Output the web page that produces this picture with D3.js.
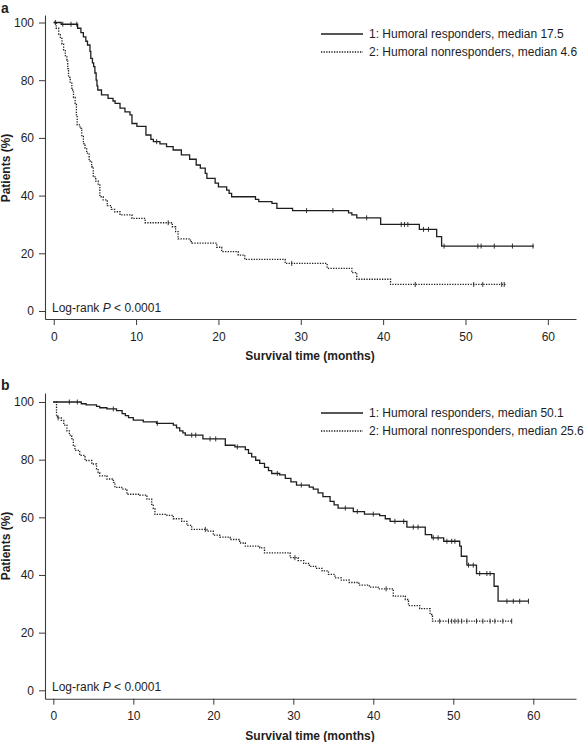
<!DOCTYPE html>
<html><head><meta charset="utf-8">
<script src="https://cdn.jsdelivr.net/npm/d3@7"></script>
<style>
body{margin:0;background:#fff}
svg{display:block}
text{font-family:"Liberation Sans",Arial,Helvetica,sans-serif;fill:#1e1e1e}
</style>
</head><body>
<svg id="chart" width="586" height="742"></svg>
<script>
// ---------- data ----------
const xTicks = [0, 10, 20, 30, 40, 50, 60];
const yTicks = [0, 20, 40, 60, 80, 100];
const xTitle = "Survival time (months)";
const yTitle = "Patients (%)";
const pText = ["Log-rank ", "P", " < 0.0001"];

// Panel a
const aLegend = ["1: Humoral responders, median 17.5", "2: Humoral nonresponders, median 4.6"];
const aRespTime = [0,0.9,2.9,3.3,3.6,3.9,4.1,4.4,4.5,4.7,4.85,5.0,5.15,5.25,5.35,5.8,6.6,7.2,7.45,8.05,8.65,9.26,9.5,10.1,11.2,11.8,12.1,12.9,13.7,14.5,15.5,16.5,17.3,17.8,18.4,18.6,19.6,20.0,21.0,21.3,21.6,24.5,24.9,26.5,27.1,29.0,35.8,36.2,36.8,39.7,44.4,46.5,47.1,58.3];
const aRespSurv = [100,99.4,98,96.5,95,93.5,92.2,90,87.6,86,84.7,82.5,80,78,76.6,74.9,73.7,72.8,72,70.3,69,68,65,64,61,59.5,58.7,57.9,57,55.8,54.1,52.6,50.6,49.5,47.7,46,44.3,43,41.9,40.8,39.6,38.7,37.9,37.3,35.6,34.8,34,33.3,32.3,30,28.3,25.8,22.5,22.5];
const aRespCens = [1.1,2.1,2.8,12.5,30.7,33.9,38.0,42.2,42.6,43.0,44.9,45.5,47.4,51.5,51.9,53.5,55.7,58.2];
const aNonTime = [0,0.3,0.6,0.8,1.0,1.2,1.4,1.6,1.7,1.8,2.0,2.2,2.4,2.6,2.75,2.85,3.2,3.4,3.6,3.8,4.0,4.3,4.6,4.8,5.1,5.4,5.6,6.0,6.5,7.0,7.4,8.05,9.5,11.1,14.4,14.8,15.1,16.6,16.8,19.8,20.4,22.4,23.2,28.1,33.2,36.2,36.8,40.9,54.9];
const aNonSurv = [100,98,96,94.5,92.5,90.5,88.5,87,84,81,79,76.6,74,72,68,64.5,63.3,60.5,58,56.5,54.7,52,50,46.5,45,43.7,39.6,38.5,36.5,35.2,34.4,33.3,32.1,30.6,29.2,27.5,25,24,23.5,22.1,20.6,19.4,17.9,16.5,14.8,13.3,11,9.2,9.2];
const aNonCens = [0.2,13.9,28.9,43.9,51.0,52.1,54.4,54.7];

// Panel b
const bLegend = ["1: Humoral responders, median 50.1", "2: Humoral nonresponders, median 25.6"];
const bRespTime = [0,3.5,4.1,5.4,5.8,6.7,7.9,8.6,9.0,9.4,10,11.25,12.9,15,15.4,15.8,16.2,16.5,18.7,21.5,22.7,24,24.4,24.8,25.3,25.8,26.4,26.9,27.3,28.3,29.0,29.7,30.4,32.0,32.5,33.1,33.7,34.6,35.1,35.6,37.5,38.9,40.8,41.5,42.1,44.2,46.5,47.3,48.8,50.8,51.0,51.7,52.9,55.1,55.6,59.4];
const bRespSurv = [100,99.4,99,98.5,98,97.6,97,96,95.3,94.6,93.7,93.1,92.6,92,91,90,89.3,88.5,87.2,85,84.4,83.5,82.2,81,79.8,78.7,77.3,76.2,75.2,74.7,73.5,72.3,71.2,70.5,69.8,68.5,67.2,65.5,64.3,63.2,62,61.1,60.6,59.5,58.6,56.6,54,52.9,51.7,50,46.5,43.4,40.5,36.1,30.9,30.9];
const bRespCens = [2.0,3.0,7.5,13.0,17.3,17.8,19.6,20.3,23.0,28.0,31.0,36.5,38.0,40.0,42.7,43.8,45.0,45.6,47.5,48.1,49.2,49.8,50.2,51.9,52.5,53.3,54.2,54.6,56.7,57.5,58.3,59.4];
const bNonTime = [0,0.4,0.5,1.0,1.3,1.7,2.0,2.3,2.5,2.7,3.3,3.96,4.8,5.4,5.6,5.8,6.7,7.5,7.7,8.55,9.2,10.8,11.7,12.3,12.5,12.7,14.2,15,16.05,16.7,17.3,19.2,20,20.8,22.1,23.3,24,25.8,26.4,29.6,30.6,31.3,32,32.8,33.6,34.4,35.2,36,37,38.2,39.5,40.6,42.5,44,44.4,45.8,47.1,47.4,57.4];
const bNonSurv = [100,95,94.5,93.6,92,90,88.5,87.3,85,83.2,81.5,79.7,78.5,76.8,75.5,74.4,73.3,72.1,70.4,69.8,68,67.7,66.3,64.5,63,61,60.7,59.5,58.6,57.2,55.8,55.2,53.8,53.1,52.3,51.1,50,49.4,47.7,46,45,44,43,42.3,41.4,40.2,39,38.2,37.4,36.5,35.8,35.2,32.7,31.5,29.4,28.3,26.3,24,24];
const bNonCens = [0.6,19.0,30.2,41.6,48.3,49.4,49.8,50.2,50.6,51.05,51.7,52.9,53.7,54.6,55.2,56.2,57.3];

// ---------- drawing ----------
const svg = d3.select("#chart");
const INK = "#1e1e1e";
const AXIS = "#3a3a3a";

function stepValue(times, surv, t) {
  let v = surv[0];
  for (let i = 0; i < times.length; i++) { if (times[i] <= t) v = surv[i]; }
  return v;
}

function drawPanel(p) {
  const g = svg.append("g");
  const x = d3.scaleLinear().domain(p.xDom).range([45, 576]);
  const y = d3.scaleLinear().domain(p.yDom).range([p.bottom, p.top]);

  const ax = g.append("g").attr("transform", `translate(0,${p.bottom})`)
    .call(d3.axisBottom(x).tickValues(xTicks).tickSize(6).tickSizeOuter(0).tickPadding(7));
  const ay = g.append("g").attr("transform", "translate(45,0)")
    .call(d3.axisLeft(y).tickValues(yTicks).tickSize(6).tickSizeOuter(0).tickPadding(5));
  [ax, ay].forEach(a => {
    a.selectAll("path.domain").attr("stroke", AXIS).attr("stroke-width", 1.1);
    a.selectAll(".tick line").attr("stroke", AXIS).attr("stroke-width", 1);
    a.selectAll(".tick text").attr("font-size", 12).attr("fill", INK)
      .attr("font-family", '"Liberation Sans",Arial,sans-serif');
  });

  const line = d3.line().x(d => x(d[0])).y(d => y(d[1])).curve(d3.curveStepAfter);
  const series = [
    {t: p.respT, s: p.respS, c: p.respC, dash: null, w: 1.3},
    {t: p.nonT, s: p.nonS, c: p.nonC, dash: "1.3,1.3", w: 1.3}
  ];
  series.forEach(se => {
    g.append("path").datum(se.t.map((t, i) => [t, se.s[i]]))
      .attr("d", line).attr("fill", "none").attr("stroke", INK)
      .attr("stroke-width", se.w).attr("stroke-dasharray", se.dash);
    g.selectAll(null).data(se.c).enter().append("line")
      .attr("x1", d => x(d)).attr("x2", d => x(d))
      .attr("y1", d => y(stepValue(se.t, se.s, d)) - 2.5)
      .attr("y2", d => y(stepValue(se.t, se.s, d)) + 2.5)
      .attr("stroke", INK).attr("stroke-width", 0.9);
  });

  // legend
  p.legend.forEach((lab, i) => {
    const ly = p.legendY + i * 18;
    g.append("line").attr("x1", 321).attr("x2", 363).attr("y1", ly).attr("y2", ly)
      .attr("stroke", INK).attr("stroke-width", 1.3)
      .attr("stroke-dasharray", i === 0 ? null : "1.3,1.3");
    g.append("text").attr("x", 369).attr("y", ly + 4.3).attr("font-size", 12).text(lab);
  });

  // log-rank
  const lt = g.append("text").attr("x", 52).attr("y", p.bottom - 7.5).attr("font-size", 12);
  lt.append("tspan").text(pText[0]);
  lt.append("tspan").attr("font-style", "italic").text(pText[1]);
  lt.append("tspan").text(pText[2]);

  // titles
  g.append("text").attr("x", 310).attr("y", p.bottom + 41).attr("text-anchor", "middle")
    .attr("font-size", 12).attr("font-weight", "bold").text(xTitle);
  g.append("text").attr("transform", `translate(9.5,${p.yTitleY}) rotate(-90)`)
    .attr("text-anchor", "middle").attr("font-size", 12).attr("font-weight", "bold").text(yTitle);
  g.append("text").attr("x", 1).attr("y", p.letterY).attr("font-size", 14)
    .attr("font-weight", "bold").text(p.letter);
}

drawPanel({
  letter: "a", letterY: 13,
  xDom: [-1.06, 63.42], yDom: [-2.77, 102.6], top: 15, bottom: 319,
  respT: aRespTime, respS: aRespSurv, respC: aRespCens,
  nonT: aNonTime, nonS: aNonSurv, nonC: aNonCens,
  legend: aLegend, legendY: 34, yTitleY: 168
});
drawPanel({
  letter: "b", letterY: 389.5,
  xDom: [-1.04, 65.34], yDom: [-2.91, 103.12], top: 393, bottom: 698.7,
  respT: bRespTime, respS: bRespSurv, respC: bRespCens,
  nonT: bNonTime, nonS: bNonSurv, nonC: bNonCens,
  legend: bLegend, legendY: 413, yTitleY: 546
});
</script>
</body></html>
